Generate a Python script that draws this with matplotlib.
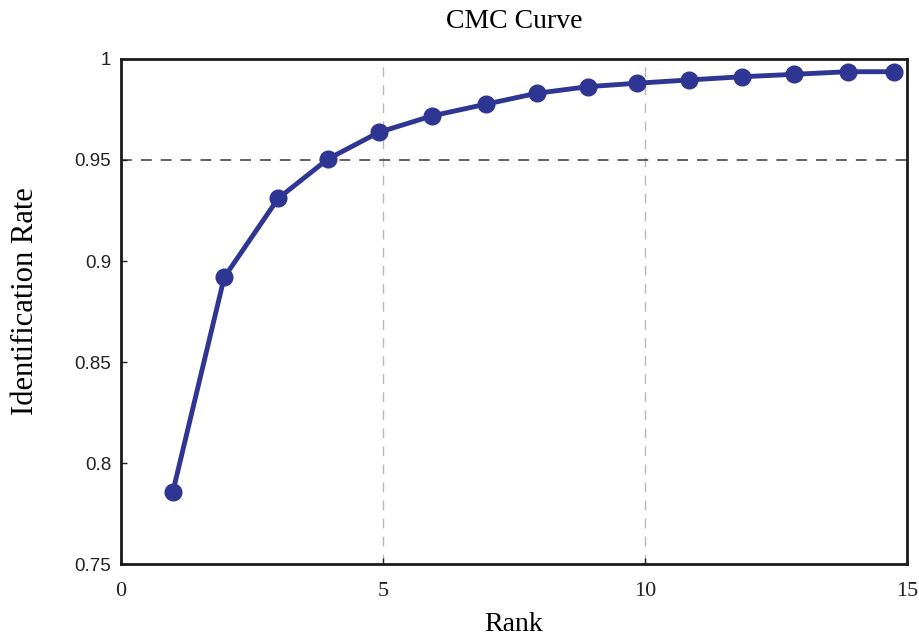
import matplotlib
matplotlib.use("Agg")
import matplotlib.pyplot as plt

# CMC data: rank positions and identification rates
ranks = [0.99, 1.97, 3.00, 3.95, 4.92, 5.93, 6.96, 7.93, 8.91, 9.85,
         10.83, 11.85, 12.84, 13.87, 14.75]
rates = [0.7858, 0.8919, 0.9310, 0.9505, 0.9637, 0.9718, 0.9776, 0.9830,
         0.9863, 0.9880, 0.9896, 0.9912, 0.9924, 0.9937, 0.9937]

x_ticks = [0, 5, 10, 15]
y_ticks = [0.75, 0.8, 0.85, 0.9, 0.95, 1.0]
y_tick_labels = ["0.75", "0.8", "0.85", "0.9", "0.95", "1"]
threshold = 0.95

serif = ["Liberation Serif", "DejaVu Serif"]
sans = ["Liberation Sans", "DejaVu Sans"]

fig = plt.figure(figsize=(9.2, 6.41), dpi=100)
ax = fig.add_axes([0.1315, 0.120, 0.8545, 0.788])

line_color = "#2E3592"

# vertical guides at x ticks and the threshold line
for xv in x_ticks[1:-1]:
    ax.axvline(xv, color="#b8b8b8", lw=1.0, ls=(0, (7, 6)), zorder=1)
ax.axhline(threshold, color="#555555", lw=1.3, ls=(0, (6, 5)), zorder=1)

ax.plot(ranks, rates, color=line_color, lw=3.5, marker="o", ms=12,
        markerfacecolor=line_color, markeredgecolor=line_color, zorder=3)

ax.set_xlim(0, 15)
ax.set_ylim(0.75, 1.0)
ax.set_xticks(x_ticks)
ax.set_xticklabels([str(v) for v in x_ticks], fontfamily=serif, fontsize=16)
ax.set_yticks(y_ticks)
ax.set_yticklabels(y_tick_labels, fontfamily=sans, fontsize=13.5)
ax.tick_params(direction="in", length=4, width=1, colors="#222222")
ax.tick_params(axis="y", pad=7)
ax.tick_params(axis="x", pad=13)

for sp in ax.spines.values():
    sp.set_linewidth(2.0)
    sp.set_color("#1a1a1a")

fig.text(0.559, 0.966, "CMC Curve", ha="center", va="center",
         fontfamily=serif, fontsize=20)
fig.text(0.558, 0.025, "Rank", ha="center", va="center",
         fontfamily=serif, fontsize=20)
fig.text(0.028, 0.53, "Identification Rate", ha="center", va="center",
         rotation=90, fontfamily=serif, fontsize=22)

fig.savefig("out.png", dpi=100)
